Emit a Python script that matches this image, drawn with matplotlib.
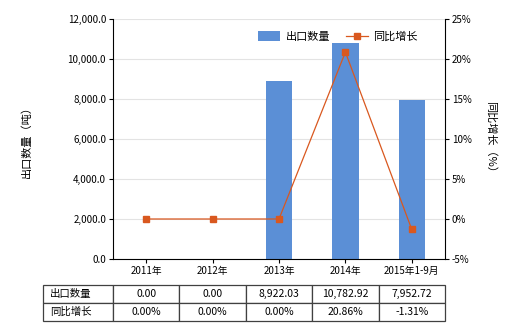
import numpy as np
import matplotlib
matplotlib.use("Agg")
from matplotlib import pyplot as plt

plt.rcParams['font.family'] = ['Noto Sans CJK SC', 'DejaVu Sans']
plt.rcParams['font.size'] = 7

# data
years = ["2011年", "2012年", "2013年", "2014年", "2015年1-9月"]
export_qty = [0.00, 0.00, 8922.03, 10782.92, 7952.72]
yoy_growth = [0.00, 0.00, 0.00, 20.86, -1.31]
qty_labels = ["0.00", "0.00", "8,922.03", "10,782.92", "7,952.72"]
yoy_labels = ["0.00%", "0.00%", "0.00%", "20.86%", "-1.31%"]
row_names = ["出口数量", "同比增长"]

bar_color = "#5b8fd6"
line_color = "#d9581f"

fig = plt.figure(figsize=(5.2, 3.3), dpi=100)
ax = fig.add_axes([113/520, 71/330, 332/520, 240/330])
x = np.arange(len(years))

ax.bar(x, export_qty, width=0.4, color=bar_color, label="出口数量", zorder=2)
ax.set_xlim(-0.5, len(years) - 0.5)
ax.set_ylim(0, 12000)
ax.set_yticks(np.arange(0, 12001, 2000))
ax.set_yticklabels([f"{v:,.1f}" for v in np.arange(0, 12001, 2000)])
ax.set_xticks(x)
ax.set_xticklabels(years)
ax.grid(axis="y", color="#e3e3e3", linewidth=0.8, zorder=0)
ax.set_axisbelow(True)
for s in ["top", "right"]:
    ax.spines[s].set_visible(False)
ax.tick_params(axis="both", length=3, width=0.8, pad=2)
ax.set_ylabel("出口数量（吨）", fontsize=8, labelpad=26)

ax2 = ax.twinx()
ax2.plot(x, yoy_growth, color=line_color, linewidth=0.9, marker="s", markersize=5, label="同比增长", zorder=3)
ax2.set_ylim(-5, 25)
ax2.set_yticks(np.arange(-5, 26, 5))
ax2.set_yticklabels([f"{v}%" for v in range(-5, 26, 5)])
for s in ["top", "left", "bottom"]:
    ax2.spines[s].set_visible(False)
ax2.tick_params(axis="y", length=3, width=0.8, pad=2)
ax2.set_ylabel("同比增长（%）", fontsize=8, rotation=-90, labelpad=17)

h1, l1 = ax.get_legend_handles_labels()
h2, l2 = ax2.get_legend_handles_labels()
ax2.legend(h1 + h2, l1 + l2, loc="upper right", bbox_to_anchor=(0.948, 0.99), ncol=2,
           frameon=False, fontsize=8, handlelength=2.0, handleheight=0.9,
           handletextpad=0.45, columnspacing=1.45)

# data table below the chart: row names column + values
names_tbl = ax.table(cellText=[[n] for n in row_names], cellLoc="left",
                     bbox=[-70/332, -62/240, 70/332, 36/240])
vals_tbl = ax.table(cellText=[qty_labels, yoy_labels], cellLoc="center",
                    bbox=[0, -62/240, 1, 36/240])
for t in (names_tbl, vals_tbl):
    t.auto_set_font_size(False)
    t.set_fontsize(7.5)
    for cell in t.get_celld().values():
        cell.set_edgecolor("#404040")
        cell.set_linewidth(0.9)

fig.savefig("out.png", dpi=100)
